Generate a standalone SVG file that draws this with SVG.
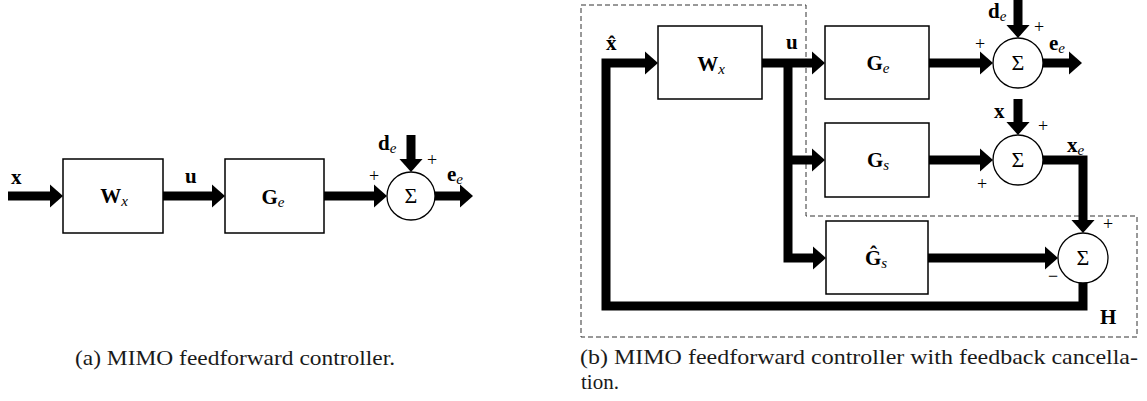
<svg xmlns="http://www.w3.org/2000/svg" width="1147" height="401" viewBox="0 0 1147 401">
<style>
text{font-family:"Liberation Serif","Times New Roman","DejaVu Serif",serif}
.lbl{font-weight:bold;font-size:21px;fill:#000}
.sub{font-style:italic;font-weight:normal;font-size:15px}
.sym{font-size:18px;fill:#000;text-anchor:middle}
.sig{font-size:22px;fill:#000;text-anchor:middle}
.cap{font-size:21px;fill:#1a1a1a}
.box{fill:#fff;stroke:#000;stroke-width:1.5}
.sum{fill:#fff;stroke:#000;stroke-width:1.3}
.wire{fill:none;stroke:#000;stroke-width:9;stroke-linejoin:miter;stroke-linecap:butt}
.arr{marker-end:url(#ah)}
.dash{fill:none;stroke:#333;stroke-width:1;stroke-dasharray:5 3}
</style>
<defs>
<marker id="ah" markerUnits="userSpaceOnUse" markerWidth="14" markerHeight="26" viewBox="-0.5 -13 14 26" refX="0" refY="0" orient="auto">
<path d="M-0.5,-12 L13,0 L-0.5,12 z" fill="#000"/>
</marker>
</defs>

<path id="H-region" class="dash" d="M581,5 H806 V216 H1137 V337 H581 Z"/>

<g id="connectors">
<line class="wire arr" x1="8" y1="196" x2="50" y2="196"/>
<line class="wire arr" x1="163" y1="196" x2="212" y2="196"/>
<line class="wire arr" x1="324" y1="196" x2="374" y2="196"/>
<line class="wire arr" x1="411" y1="135" x2="411" y2="159"/>
<line class="wire arr" x1="435" y1="196" x2="460" y2="196"/>
<polyline class="wire arr" points="1083,270 1083,306 606,306 606,63 645,63"/>
<line class="wire arr" x1="762" y1="63" x2="812" y2="63"/>
<polyline class="wire arr" points="788,63 788,258 813,258"/>
<line class="wire arr" x1="788" y1="160" x2="812" y2="160"/>
<line class="wire arr" x1="929" y1="63" x2="980" y2="63"/>
<line class="wire arr" x1="1018" y1="0" x2="1018" y2="25"/>
<line class="wire arr" x1="1043" y1="63" x2="1069" y2="63"/>
<line class="wire arr" x1="929" y1="160" x2="980" y2="160"/>
<line class="wire arr" x1="1018" y1="99" x2="1018" y2="122"/>
<polyline class="wire arr" points="1030,160 1083,160 1083,220"/>
<line class="wire arr" x1="928" y1="258" x2="1045" y2="258"/>
</g>

<g id="a-Wx">
<rect class="box" x="63" y="159" width="100" height="74"/>
<text class="lbl" x="114" y="203" text-anchor="middle">W<tspan class="sub" dy="3">x</tspan></text>
</g>
<g id="a-Ge">
<rect class="box" x="225" y="159" width="99" height="74"/>
<text class="lbl" x="273" y="204" text-anchor="middle">G<tspan class="sub" dy="3">e</tspan></text>
</g>
<g id="a-sum">
<circle class="sum" cx="411" cy="196" r="24"/>
<text class="sig" x="411" y="203">Σ</text>
<text class="sym" x="374" y="182">+</text>
<text class="sym" x="432" y="166">+</text>
</g>
<g id="a-labels">
<text class="lbl" x="11" y="184">x</text>
<text class="lbl" x="185" y="183">u</text>
<text class="lbl" x="378" y="150">d<tspan class="sub" dy="3">e</tspan></text>
<text class="lbl" x="447" y="181">e<tspan class="sub" dy="3">e</tspan></text>
</g>

<g id="b-Wx">
<rect class="box" x="658" y="26" width="104" height="73"/>
<text class="lbl" x="711" y="71" text-anchor="middle">W<tspan class="sub" dy="3">x</tspan></text>
</g>
<g id="b-Ge">
<rect class="box" x="825" y="26" width="104" height="73"/>
<text class="lbl" x="878" y="70" text-anchor="middle">G<tspan class="sub" dy="3">e</tspan></text>
</g>
<g id="b-Gs">
<rect class="box" x="825" y="123" width="104" height="74"/>
<text class="lbl" x="878" y="167" text-anchor="middle">G<tspan class="sub" dy="3">s</tspan></text>
</g>
<g id="b-Gshat">
<rect class="box" x="826" y="221" width="102" height="73"/>
<text class="lbl" x="876" y="265" text-anchor="middle">Ĝ<tspan class="sub" dy="3">s</tspan></text>
</g>
<g id="b-sum1">
<circle class="sum" cx="1018" cy="63" r="25"/>
<text class="sig" x="1018" y="70">Σ</text>
<text class="sym" x="980" y="50">+</text>
<text class="sym" x="1039" y="33">+</text>
</g>
<g id="b-sum2">
<circle class="sum" cx="1018" cy="160" r="25"/>
<text class="sig" x="1018" y="167">Σ</text>
<text class="sym" x="1043" y="132">+</text>
<text class="sym" x="982" y="190">+</text>
</g>
<g id="b-sum3">
<circle class="sum" cx="1083" cy="258" r="25"/>
<text class="sig" x="1083" y="265">Σ</text>
<text class="sym" x="1108" y="230">+</text>
<text class="sym" x="1053" y="282">−</text>
</g>
<g id="b-labels">
<text class="lbl" x="606" y="50">x̂</text>
<text class="lbl" x="786" y="49">u</text>
<text class="lbl" x="988" y="18">d<tspan class="sub" dy="3">e</tspan></text>
<text class="lbl" x="1049" y="50">e<tspan class="sub" dy="3">e</tspan></text>
<text class="lbl" x="994" y="118">x</text>
<text class="lbl" x="1067" y="152">x<tspan class="sub" dy="3">e</tspan></text>
<text class="lbl" x="1100" y="324">H</text>
</g>

<text class="cap" x="75" y="365" textLength="320" lengthAdjust="spacingAndGlyphs">(a) MIMO feedforward controller.</text>
<text class="cap" x="580" y="364" textLength="558" lengthAdjust="spacingAndGlyphs">(b) MIMO feedforward controller with feedback cancella-</text>
<text class="cap" x="581" y="389">tion.</text>
</svg>
